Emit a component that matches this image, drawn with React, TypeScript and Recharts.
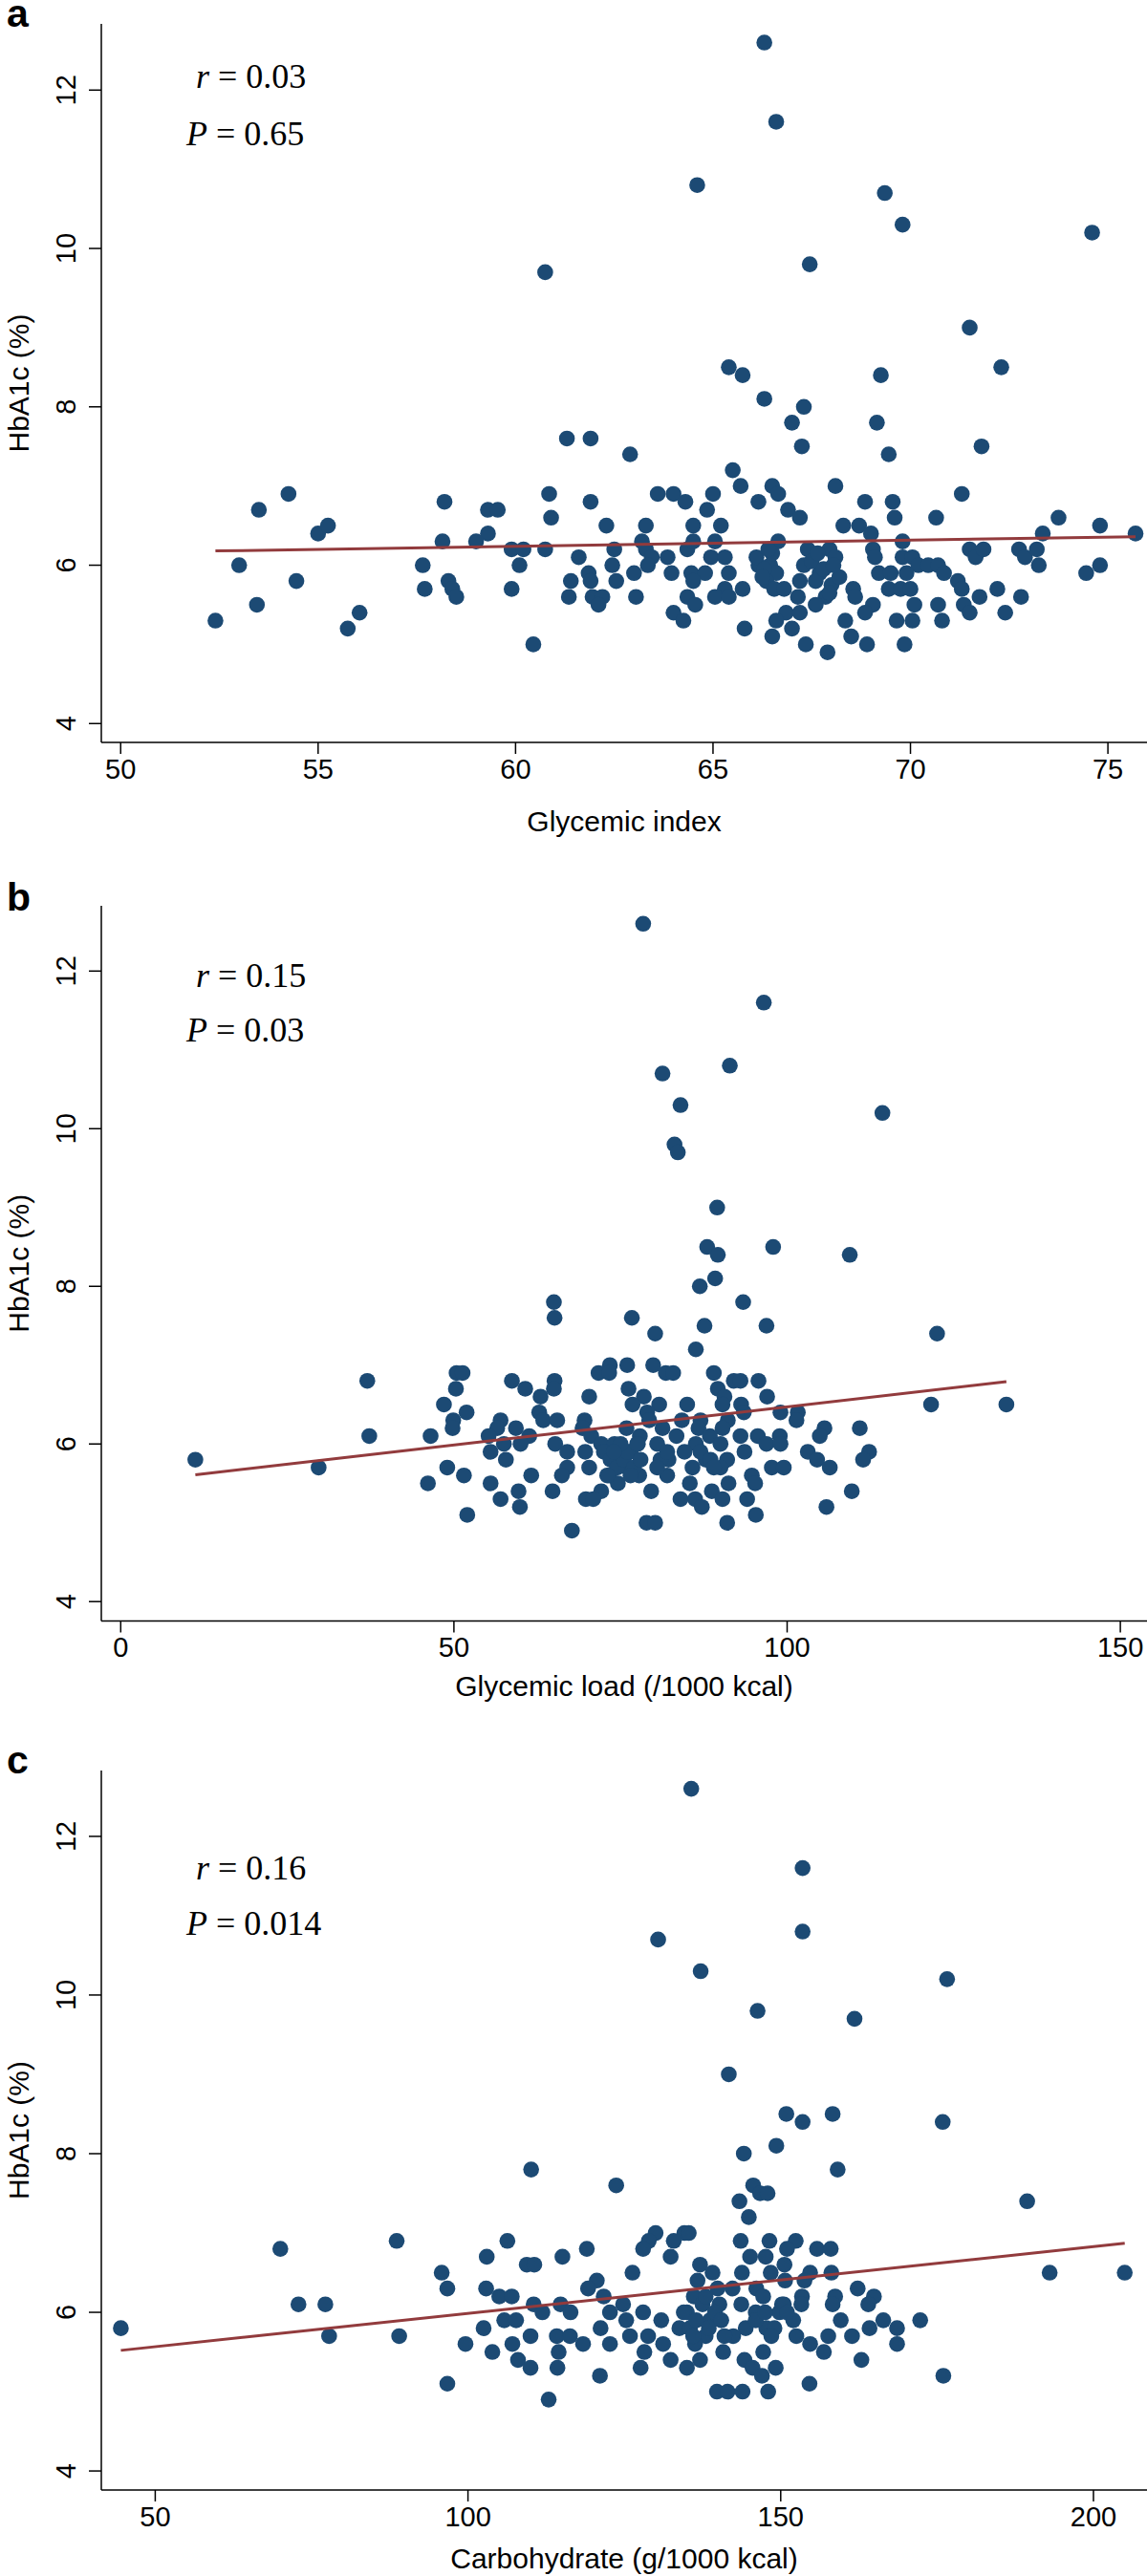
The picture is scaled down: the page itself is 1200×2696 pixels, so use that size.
import React from 'react';
import { ScatterChart, Scatter, XAxis, YAxis } from 'recharts';

// HbA1c (%) vs dietary intake, one scatter per panel (x, y)
const glycemicIndexPoints: [number, number][] = [
  [66.3, 12.6], [66.6, 11.6], [64.6, 10.8], [69.35, 10.7], [69.8, 10.3], [74.6, 10.2], [60.75, 9.7], [67.45, 9.8],
  [71.5, 9.0], [65.4, 8.5], [65.75, 8.4], [69.25, 8.4], [72.3, 8.5], [66.3, 8.1], [67.3, 8.0], [67.0, 7.8],
  [69.15, 7.8], [61.3, 7.6], [61.9, 7.6], [62.9, 7.4], [67.25, 7.5], [69.45, 7.4], [71.8, 7.5], [65.5, 7.2],
  [65.7, 7.0], [66.5, 7.0], [68.1, 7.0],
  [54.25, 6.9], [53.5, 6.7], [58.2, 6.8], [59.3, 6.7], [59.55, 6.7], [60.85, 6.9], [60.9, 6.6], [61.9, 6.8],
  [63.6, 6.9], [64.0, 6.9], [64.3, 6.8], [65.0, 6.9], [64.85, 6.7], [66.15, 6.8], [66.65, 6.9], [66.9, 6.7],
  [67.2, 6.6], [68.85, 6.8], [69.55, 6.8], [69.6, 6.6], [71.3, 6.9], [70.65, 6.6], [73.75, 6.6],
  [55.0, 6.4], [55.25, 6.5], [59.3, 6.4], [62.3, 6.5], [63.3, 6.5], [64.5, 6.5], [65.2, 6.5], [68.3, 6.5],
  [68.7, 6.5], [69.0, 6.4], [73.35, 6.4], [74.8, 6.5], [75.7, 6.4],
  [58.15, 6.3], [59.0, 6.3], [59.9, 6.2], [60.2, 6.2], [60.75, 6.2], [61.6, 6.1], [62.5, 6.2], [63.2, 6.3],
  [63.3, 6.2], [63.45, 6.1], [63.85, 6.1], [64.35, 6.2], [64.5, 6.3], [64.95, 6.1], [65.05, 6.3], [65.3, 6.1],
  [66.65, 6.3], [67.4, 6.2], [67.95, 6.2], [68.1, 6.1], [69.05, 6.2], [69.1, 6.1], [69.8, 6.3], [69.8, 6.1],
  [70.05, 6.1], [71.5, 6.2], [71.65, 6.1], [71.85, 6.2], [72.75, 6.2], [72.9, 6.1], [73.2, 6.2],
  [53.0, 6.0], [57.65, 6.0], [60.1, 6.0], [62.45, 6.0], [63.35, 6.0], [66.15, 6.0], [66.45, 6.0], [67.3, 6.0],
  [70.2, 6.0], [70.45, 6.0], [70.7, 6.0], [73.25, 6.0], [74.8, 6.0],
  [61.85, 5.9], [63.0, 5.9], [63.95, 5.9], [64.45, 5.9], [64.8, 5.9], [65.4, 5.9], [66.6, 5.9], [67.7, 5.9],
  [69.2, 5.9], [69.5, 5.9], [69.9, 5.9], [70.85, 5.9], [74.45, 5.9],
  [54.45, 5.8], [58.3, 5.8], [61.4, 5.8], [61.9, 5.8], [62.55, 5.8], [64.5, 5.8], [66.35, 5.8], [67.2, 5.8],
  [67.6, 5.8], [71.2, 5.8],
  [57.7, 5.7], [58.4, 5.7], [59.9, 5.7], [65.3, 5.7], [65.75, 5.7], [66.55, 5.7], [66.8, 5.7], [68.55, 5.7],
  [69.45, 5.7], [69.75, 5.7], [70.0, 5.7], [71.3, 5.7], [72.2, 5.7],
  [58.5, 5.6], [61.35, 5.6], [61.95, 5.6], [62.2, 5.6], [63.05, 5.6], [64.35, 5.6], [65.05, 5.6], [65.4, 5.6],
  [67.15, 5.6], [67.85, 5.6], [68.6, 5.6], [71.75, 5.6], [72.8, 5.6],
  [53.45, 5.5], [62.1, 5.5], [64.55, 5.5], [67.6, 5.5], [69.05, 5.5], [70.1, 5.5], [70.7, 5.5], [71.35, 5.5],
  [56.05, 5.4], [64.0, 5.4], [66.85, 5.4], [67.2, 5.4], [68.85, 5.4], [71.5, 5.4], [72.4, 5.4],
  [52.4, 5.3], [64.25, 5.3], [66.6, 5.3], [68.35, 5.3], [69.65, 5.3], [70.05, 5.3], [70.8, 5.3],
  [55.75, 5.2], [65.8, 5.2], [67.0, 5.2], [66.5, 5.1], [68.5, 5.1],
  [60.45, 5.0], [67.35, 5.0], [68.9, 5.0], [69.85, 5.0], [67.9, 4.9],
  [66.1, 6.1], [66.3, 5.95], [66.5, 6.15], [66.25, 5.85], [67.5, 6.05], [67.8, 5.95], [68.0, 5.75], [68.2, 5.85],
  [67.95, 5.65], [68.05, 6.0], [66.4, 6.2], [67.65, 6.15],
];

const glycemicLoadPoints: [number, number][] = [
  [78.4, 12.6], [96.5, 11.6], [81.3, 10.7], [91.4, 10.8], [84.0, 10.3], [114.3, 10.2], [83.1, 9.8], [83.6, 9.7],
  [89.5, 9.0], [88.0, 8.5], [89.6, 8.4], [97.9, 8.5], [109.4, 8.4], [89.2, 8.1], [86.9, 8.0], [65.0, 7.8],
  [93.4, 7.8], [65.1, 7.6], [76.7, 7.6], [87.6, 7.5], [96.9, 7.5], [80.2, 7.4], [122.5, 7.4], [86.3, 7.2],
  [73.4, 7.0], [76.0, 7.0], [79.9, 7.0],
  [50.4, 6.9], [51.3, 6.9], [71.7, 6.9], [73.3, 6.9], [81.8, 6.9], [82.9, 6.9], [89.0, 6.9],
  [37.0, 6.8], [58.7, 6.8], [65.1, 6.8], [92.0, 6.8], [93.0, 6.8], [95.7, 6.8],
  [50.3, 6.7], [60.7, 6.7], [65.0, 6.7], [76.2, 6.7], [89.6, 6.7],
  [90.6, 6.6], [63.0, 6.6], [70.3, 6.6], [78.5, 6.6], [97.0, 6.6],
  [48.5, 6.5], [76.8, 6.5], [80.8, 6.5], [85.0, 6.5], [90.3, 6.5], [93.1, 6.5], [121.6, 6.5], [132.9, 6.5],
  [51.9, 6.4], [62.8, 6.4], [79.0, 6.4], [93.5, 6.4], [99.0, 6.4], [101.6, 6.4],
  [49.9, 6.3], [57.0, 6.3], [63.4, 6.3], [65.5, 6.3], [69.6, 6.3], [79.3, 6.3], [84.2, 6.3], [87.0, 6.3],
  [91.1, 6.3], [101.4, 6.3],
  [49.8, 6.2], [56.5, 6.2], [59.3, 6.2], [69.3, 6.2], [75.9, 6.2], [81.3, 6.2], [86.7, 6.2], [90.3, 6.2],
  [105.6, 6.2], [110.9, 6.2],
  [37.3, 6.1], [46.5, 6.1], [55.2, 6.1], [61.3, 6.1], [70.6, 6.1], [77.9, 6.1], [83.4, 6.1], [88.4, 6.1],
  [93.0, 6.1], [95.6, 6.1], [98.9, 6.1], [104.9, 6.1],
  [57.5, 6.0], [60.0, 6.0], [65.2, 6.0], [72.1, 6.0], [74.1, 6.0], [77.6, 6.0], [80.5, 6.0], [86.3, 6.0],
  [96.9, 6.0], [99.0, 6.0],
  [55.5, 5.9], [67.0, 5.9], [69.7, 5.9], [76.5, 5.9], [84.6, 5.9], [93.6, 5.9], [103.1, 5.9], [112.3, 5.9],
  [11.2, 5.8], [57.8, 5.8], [73.7, 5.8], [82.2, 5.8], [87.8, 5.8], [91.0, 5.8], [104.5, 5.8], [111.4, 5.8],
  [29.7, 5.7], [49.0, 5.7], [67.0, 5.7], [70.3, 5.7], [76.0, 5.7], [85.8, 5.7], [90.0, 5.7], [97.7, 5.7],
  [99.5, 5.7], [106.4, 5.7],
  [51.5, 5.6], [61.6, 5.6], [66.2, 5.6], [73.3, 5.6], [77.8, 5.6], [82.0, 5.6], [94.7, 5.6],
  [46.1, 5.5], [55.5, 5.5], [74.6, 5.5], [85.4, 5.5], [91.2, 5.5], [95.2, 5.5],
  [59.7, 5.4], [64.8, 5.4], [72.1, 5.4], [79.6, 5.4], [88.7, 5.4], [109.7, 5.4],
  [57.0, 5.3], [69.8, 5.3], [70.9, 5.3], [84.0, 5.3], [86.2, 5.3], [90.3, 5.3], [94.0, 5.3],
  [59.9, 5.2], [87.2, 5.2], [105.9, 5.2], [52.0, 5.1], [95.3, 5.1],
  [78.9, 5.0], [80.2, 5.0], [91.0, 5.0], [67.7, 4.9],
  [72.5, 5.9], [73.5, 5.8], [74.5, 5.7], [75.5, 5.8], [76.0, 5.9], [77.0, 5.7], [78.0, 5.8], [75.0, 6.0],
  [76.5, 5.6], [73.0, 5.6], [77.5, 6.0], [74.0, 5.9], [81.0, 5.8], [82.0, 5.9], [80.5, 5.7], [87.0, 5.9],
  [88.5, 5.8], [90.0, 6.0], [89.0, 5.7],
];

const carbohydratePoints: [number, number][] = [
  [135.7, 12.6], [153.5, 11.6], [153.5, 10.8], [130.4, 10.7], [137.2, 10.3], [176.6, 10.2], [146.3, 9.8], [161.8, 9.7],
  [141.7, 9.0], [150.9, 8.5], [158.3, 8.5], [153.5, 8.4], [175.9, 8.4], [149.3, 8.1], [144.1, 8.0], [110.1, 7.8],
  [159.1, 7.8], [123.7, 7.6], [145.6, 7.6], [146.7, 7.5], [147.9, 7.5], [143.4, 7.4], [189.4, 7.4], [144.9, 7.2],
  [130.0, 7.0], [134.6, 7.0], [135.3, 7.0],
  [88.6, 6.9], [106.3, 6.9], [128.9, 6.9], [132.9, 6.9], [143.6, 6.9], [148.2, 6.9], [152.4, 6.9],
  [70.0, 6.8], [119.0, 6.8], [128.0, 6.8], [151.0, 6.8], [155.8, 6.8], [158.0, 6.8],
  [103.0, 6.7], [115.1, 6.7], [132.4, 6.7], [145.1, 6.7], [147.6, 6.7],
  [109.4, 6.6], [110.6, 6.6], [137.1, 6.6], [150.6, 6.6],
  [95.8, 6.5], [126.3, 6.5], [139.1, 6.5], [143.8, 6.5], [148.4, 6.5], [154.7, 6.5], [158.1, 6.5], [193.0, 6.5],
  [205.0, 6.5],
  [120.6, 6.4], [136.7, 6.4], [150.7, 6.4], [153.8, 6.4],
  [96.7, 6.3], [102.9, 6.3], [119.2, 6.3], [139.9, 6.3], [142.3, 6.3], [146.1, 6.3], [162.3, 6.3],
  [105.0, 6.2], [107.0, 6.2], [121.7, 6.2], [136.1, 6.2], [147.2, 6.2], [153.4, 6.2], [158.7, 6.2], [164.9, 6.2],
  [72.9, 6.1], [77.2, 6.1], [110.5, 6.1], [114.8, 6.1], [124.8, 6.1], [140.2, 6.1], [143.7, 6.1], [150.2, 6.1],
  [153.3, 6.1], [158.3, 6.1], [164.0, 6.1],
  [111.9, 6.0], [116.4, 6.0], [122.7, 6.0], [128.0, 6.0], [135.0, 6.0], [146.0, 6.0], [149.8, 6.0],
  [105.8, 5.9], [107.7, 5.9], [125.3, 5.9], [130.9, 5.9], [138.7, 5.9], [159.6, 5.9], [166.4, 5.9], [172.3, 5.9],
  [44.5, 5.8], [102.5, 5.8], [121.2, 5.8], [133.8, 5.8], [144.4, 5.8], [147.7, 5.8], [164.2, 5.8], [168.6, 5.8],
  [77.8, 5.7], [89.0, 5.7], [110.0, 5.7], [114.2, 5.7], [116.3, 5.7], [125.9, 5.7], [128.8, 5.7], [138.0, 5.7],
  [142.4, 5.7], [152.5, 5.7], [157.6, 5.7], [161.4, 5.7],
  [99.6, 5.6], [107.1, 5.6], [118.4, 5.6], [122.7, 5.6], [131.2, 5.6], [136.3, 5.6], [154.7, 5.6], [168.6, 5.6],
  [103.9, 5.5], [114.5, 5.5], [128.2, 5.5], [140.8, 5.5], [147.2, 5.5], [156.9, 5.5],
  [108.0, 5.4], [132.4, 5.4], [137.1, 5.4], [144.2, 5.4], [162.9, 5.4],
  [110.0, 5.3], [114.3, 5.3], [127.6, 5.3], [135.0, 5.3], [145.5, 5.3], [149.2, 5.3],
  [121.1, 5.2], [147.0, 5.2], [176.0, 5.2], [96.7, 5.1], [154.6, 5.1],
  [139.8, 5.0], [141.5, 5.0], [143.9, 5.0], [148.0, 5.0], [112.9, 4.9],
  [134.5, 6.0], [135.5, 5.8], [136.5, 5.9], [137.5, 6.1], [138.5, 5.8], [139.5, 6.0], [140.5, 5.9], [136.0, 5.7],
  [138.0, 6.2], [141.0, 5.7], [146.0, 5.9], [147.5, 6.0], [149.0, 5.8], [150.5, 6.1], [152.0, 5.9], [148.5, 5.7],
  [151.0, 6.0],
];

// fitted regression line end points
const glycemicIndexFit: [number, number][] = [[52.4, 6.18], [75.7, 6.36]];
const glycemicLoadFit: [number, number][] = [[11.2, 5.61], [132.9, 6.79]];
const carbohydrateFit: [number, number][] = [[44.5, 5.52], [205.0, 6.87]];

const hba1cTicks = [4, 6, 8, 10, 12];
const glycemicIndexTicks = [50, 55, 60, 65, 70, 75];
const glycemicLoadTicks = [0, 50, 100, 150];
const carbohydrateTicks = [50, 100, 150, 200];

const DOT = '#1c4a74';
const FIT = '#923b3d';
const SANS = '"Liberation Sans", Arial, Helvetica, sans-serif';
const SERIF = '"Liberation Serif", "Times New Roman", serif';

const toXY = (pts: [number, number][]) => pts.map(([x, y]) => ({ x, y }));

const Dot = (props: any) => <circle cx={props.cx} cy={props.cy} r={8.3} fill={DOT} />;
const NoDot = () => <g />;

const YTick = (props: any) => {
  const { x, y, payload } = props;
  const bx = x - 14;
  return (
    <text x={bx} y={y} transform={`rotate(-90 ${bx} ${y})`} textAnchor="middle"
      fontSize={29} fontFamily={SANS} fill="#000">
      {payload.value}
    </text>
  );
};

interface PanelProps {
  top: number;
  height: number;
  plotTop: number;
  axisHeight: number;
  xDomain: [number, number];
  yDomain: [number, number];
  xTicks: number[];
  points: [number, number][];
  fit: [number, number][];
  letter: string;
  letterY: number;
  r: string;
  p: string;
  rY: number;
  pY: number;
  xTitle: string;
  xTitleY: number;
}

function Panel(props: PanelProps) {
  const { top, height, plotTop, axisHeight, xDomain, yDomain, xTicks, points, fit } = props;
  const plotBottom = height - axisHeight;
  return (
    <div style={{ position: 'absolute', left: 0, top, width: 1200, height }}>
      <ScatterChart width={1200} height={height} margin={{ top: plotTop, right: 0, bottom: 0, left: 0 }}>
        <XAxis type="number" dataKey="x" domain={xDomain} ticks={xTicks} interval={0} allowDataOverflow
          height={axisHeight} tickSize={12} tickMargin={5}
          tick={{ fontSize: 29, fill: '#000', fontFamily: SANS }}
          axisLine={{ stroke: '#000', strokeWidth: 1.5 }} tickLine={{ stroke: '#000', strokeWidth: 1.5 }} />
        <YAxis type="number" dataKey="y" domain={yDomain} ticks={hba1cTicks} interval={0} allowDataOverflow
          width={106} tickSize={13} tickMargin={0} tick={<YTick />}
          axisLine={{ stroke: '#000', strokeWidth: 1.5 }} tickLine={{ stroke: '#000', strokeWidth: 1.5 }} />
        <Scatter data={toXY(points)} shape={<Dot />} isAnimationActive={false} />
        <Scatter data={toXY(fit)} shape={<NoDot />} line={{ stroke: FIT, strokeWidth: 3 }} isAnimationActive={false} />
      </ScatterChart>
      <svg width={1200} height={height} style={{ position: 'absolute', left: 0, top: 0, pointerEvents: 'none' }}>
        <text x={7} y={props.letterY} fontFamily={SANS} fontWeight="bold" fontSize={41} fill="#000">{props.letter}</text>
        <text x={205} y={props.rY} fontFamily={SERIF} fontSize={36} fill="#000">
          <tspan fontStyle="italic">r</tspan> = {props.r}
        </text>
        <text x={195} y={props.pY} fontFamily={SERIF} fontSize={36} fill="#000">
          <tspan fontStyle="italic">P</tspan> = {props.p}
        </text>
        <text x={30} y={(plotTop + plotBottom) / 2} transform={`rotate(-90 30 ${(plotTop + plotBottom) / 2})`}
          textAnchor="middle" fontFamily={SANS} fontSize={30} fill="#000">HbA1c (%)</text>
        <text x={653} y={props.xTitleY} textAnchor="middle" fontFamily={SANS} fontSize={30} fill="#000">{props.xTitle}</text>
      </svg>
    </div>
  );
}

export default function App() {
  return (
    <div style={{ position: 'absolute', left: 0, top: 0, width: 1200, height: 2696, background: '#fff' }}>
      <Panel top={0} height={880} plotTop={25} axisHeight={103}
        xDomain={[49.51, 75.99]} yDomain={[3.762, 12.836]} xTicks={glycemicIndexTicks}
        points={glycemicIndexPoints} fit={glycemicIndexFit}
        letter="a" letterY={28} r="0.03" p="0.65" rY={92} pY={152}
        xTitle="Glycemic index" xTitleY={870} />
      <Panel top={880} height={910} plotTop={68} axisHeight={93.5}
        xDomain={[-2.91, 154.0]} yDomain={[3.754, 12.828]} xTicks={glycemicLoadTicks}
        points={glycemicLoadPoints} fit={glycemicLoadFit}
        letter="b" letterY={73} r="0.15" p="0.03" rY={153} pY={210}
        xTitle="Glycemic load (/1000 kcal)" xTitleY={895} />
      <Panel top={1790} height={906} plotTop={63} axisHeight={90}
        xDomain={[41.38, 208.56]} yDomain={[3.76, 12.83]} xTicks={carbohydrateTicks}
        points={carbohydratePoints} fit={carbohydrateFit}
        letter="c" letterY={66} r="0.16" p="0.014" rY={177} pY={235}
        xTitle="Carbohydrate (g/1000 kcal)" xTitleY={898} />
    </div>
  );
}
